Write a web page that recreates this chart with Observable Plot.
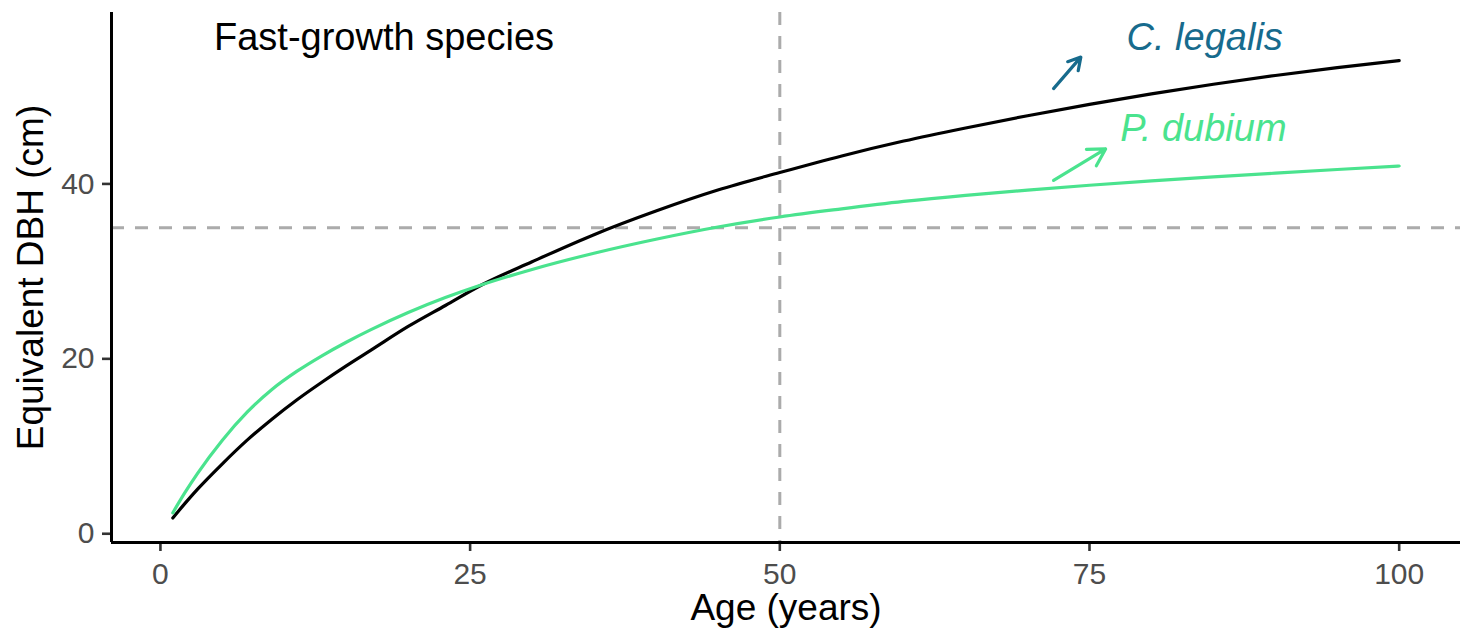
<!DOCTYPE html>
<html>
<head>
<meta charset="utf-8">
<script src="https://cdn.jsdelivr.net/npm/d3@7"></script>
<script src="https://cdn.jsdelivr.net/npm/@observablehq/plot@0.6"></script>
<style>
  html, body { margin: 0; padding: 0; background: #ffffff; }
  #chart { width: 1461px; height: 642px; }
</style>
</head>
<body>
<div id="chart"></div>
<script>
// ---- data ----
const ages        = [1, 2, 3, 5, 7, 9, 11, 13, 15, 17, 20, 23, 26, 30, 35, 40, 45, 50, 55, 60, 65, 70, 75, 80, 85, 90, 95, 100];
const legalisDBH  = [1.8, 3.5, 5.1, 8.0, 10.7, 13.1, 15.3, 17.3, 19.2, 21.0, 23.7, 26.1, 28.5, 31.1, 34.2, 36.9, 39.3, 41.3, 43.2, 44.9, 46.4, 47.8, 49.1, 50.3, 51.4, 52.4, 53.3, 54.1];
const dubiumDBH   = [2.4, 4.75, 6.9, 10.7, 13.9, 16.5, 18.56, 20.32, 21.9, 23.34, 25.29, 27.0, 28.5, 30.22, 32.07, 33.67, 35.07, 36.22, 37.15, 38.0, 38.7, 39.3, 39.85, 40.35, 40.8, 41.23, 41.65, 42.05];

const xTicks = [0, 25, 50, 75, 100];
const yTicks = [0, 20, 40];

const thresholdAge = [50];
const thresholdDBH = [35];

const panelTitle = ["Fast-growth species"];
const panelTitleX = [18.05];
const panelTitleY = [56.7];

const speciesNames  = ["C. legalis", "P. dubium"];
const speciesLabelX = [84.3, 84.2];
const speciesLabelY = [56.7, 46.3];
const arrowX1 = [72.1, 72.1];
const arrowY1 = [50.9, 40.4];
const arrowX2 = [74.3, 76.3];
const arrowY2 = [54.5, 44.0];

const xDomain = [-3.95, 104.95];
const yDomain = [-1.0, 59.6];

// ---- build tables ----
const legalis = ages.map((a, i) => ({age: a, dbh: legalisDBH[i]}));
const dubium  = ages.map((a, i) => ({age: a, dbh: dubiumDBH[i]}));
const labels = speciesNames.map((n, i) => ({name: n, x: speciesLabelX[i], y: speciesLabelY[i]}));
const arrows = speciesNames.map((n, i) => ({name: n, x1: arrowX1[i], y1: arrowY1[i], x2: arrowX2[i], y2: arrowY2[i]}));
const titles = panelTitle.map((t, i) => ({t, x: panelTitleX[i], y: panelTitleY[i]}));

const colLegalisText = "#176B8D";
const colDubium = "#4AE38E";
const dashGray = "#ABABAB";

const chart = Plot.plot({
  width: 1461,
  height: 642,
  marginLeft: 111,
  marginRight: 1,
  marginTop: 12,
  marginBottom: 100,
  style: {fontFamily: "'Liberation Sans', Arial, Helvetica, sans-serif", background: "#ffffff", overflow: "visible"},
  x: {domain: xDomain},
  y: {domain: yDomain},
  color: {domain: speciesNames, range: [colLegalisText, colDubium]},
  marks: [
    // reference dashed lines
    Plot.ruleY(thresholdDBH, {stroke: dashGray, strokeWidth: 3, strokeDasharray: "13,11"}),
    Plot.ruleX(thresholdAge, {stroke: dashGray, strokeWidth: 3, strokeDasharray: "13,11"}),
    // curves
    Plot.line(legalis, {x: "age", y: "dbh", stroke: "#000000", strokeWidth: 3.2, curve: "monotone-x"}),
    Plot.line(dubium, {x: "age", y: "dbh", stroke: colDubium, strokeWidth: 3.2, curve: "monotone-x"}),
    // arrows and labels
    Plot.arrow(arrows, {x1: "x1", y1: "y1", x2: "x2", y2: "y2", stroke: "name", strokeWidth: 3.2, headLength: 9, headAngle: 60}),
    Plot.text(labels, {x: "x", y: "y", text: "name", fill: "name", fontSize: 38, fontStyle: "italic", textAnchor: "middle"}),
    Plot.text(titles, {x: "x", y: "y", text: "t", fontSize: 38, fill: "#000000", textAnchor: "middle"}),
    // axes
    Plot.axisX({ticks: xTicks, tickSize: 9, tickPadding: 11, fontSize: 30, label: null, color: "#4D4D4D", stroke: "#333333", strokeWidth: 2.6}),
    Plot.axisY({ticks: yTicks, tickSize: 9, tickPadding: 8, fontSize: 30, label: null, color: "#4D4D4D", stroke: "#333333", strokeWidth: 2.6}),
    Plot.ruleX([xDomain[0]], {stroke: "#000000", strokeWidth: 3}),
    Plot.ruleY([yDomain[0]], {stroke: "#000000", strokeWidth: 3}),
    // axis titles
    Plot.text(["Age (years)"], {frameAnchor: "bottom", dy: 77, fontSize: 37, fill: "#000000", textAnchor: "middle"}),
    Plot.text(["Equivalent DBH (cm)"], {frameAnchor: "left", dx: -80, rotate: -90, fontSize: 37, fill: "#000000", textAnchor: "middle"})
  ]
});

document.getElementById("chart").appendChild(chart);
</script>
</body>
</html>
